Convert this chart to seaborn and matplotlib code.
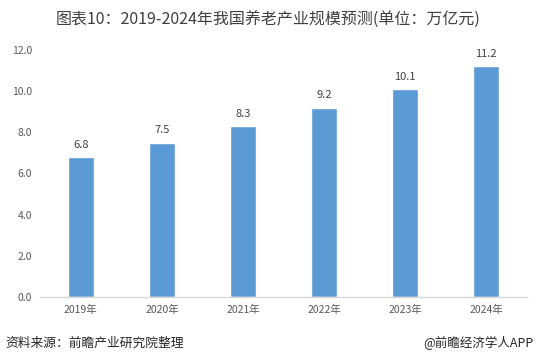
import pandas as pd
import seaborn as sns
import matplotlib.pyplot as plt

years = ['2019年', '2020年', '2021年', '2022年', '2023年', '2024年']
scale = [6.8, 7.5, 8.3, 9.2, 10.1, 11.2]
yticks = [0.0, 2.0, 4.0, 6.0, 8.0, 10.0, 12.0]

title = '图表10：2019-2024年我国养老产业规模预测(单位：万亿元)'
source = '资料来源：前瞻产业研究院整理'
brand = '@前瞻经济学人APP'

sns.set_theme(style="white")
plt.rcParams['font.family'] = ['Noto Sans CJK SC', 'DejaVu Sans']

df = pd.DataFrame({'year': years, 'value': scale})

fig = plt.figure(figsize=(5.36, 3.64), dpi=100)
ax = fig.add_axes([0.075, 0.184, 0.908, 0.679])

sns.barplot(data=df, x='year', y='value', color='#5B9BD5', saturation=1,
            width=0.32, ax=ax)

# value labels above bars
for i, v in enumerate(scale):
    ax.text(i, v + 0.35, f'{v:.1f}', ha='center', va='bottom',
            fontsize=8, color='#404040')

ax.set_ylim(0, 12)
ax.set_yticks(yticks)
ax.set_yticklabels([f'{t:.1f}' for t in yticks])
ax.set_xlabel('')
ax.set_ylabel('')
ax.tick_params(axis='both', labelsize=7.5, colors='#595959', length=0, pad=6)
sns.despine(ax=ax, left=True, top=True, right=True)
ax.spines['bottom'].set_color('#D9D9D9')
ax.spines['bottom'].set_linewidth(1)

fig.text(0.5, 0.945, title, ha='center', va='center', fontsize=11.5, color='#404040')
fig.text(0.01, 0.058, source, ha='left', va='center', fontsize=9.2, color='#262626')
fig.text(0.995, 0.058, brand, ha='right', va='center', fontsize=9, color='#262626')

fig.savefig('out.png', dpi=100)
